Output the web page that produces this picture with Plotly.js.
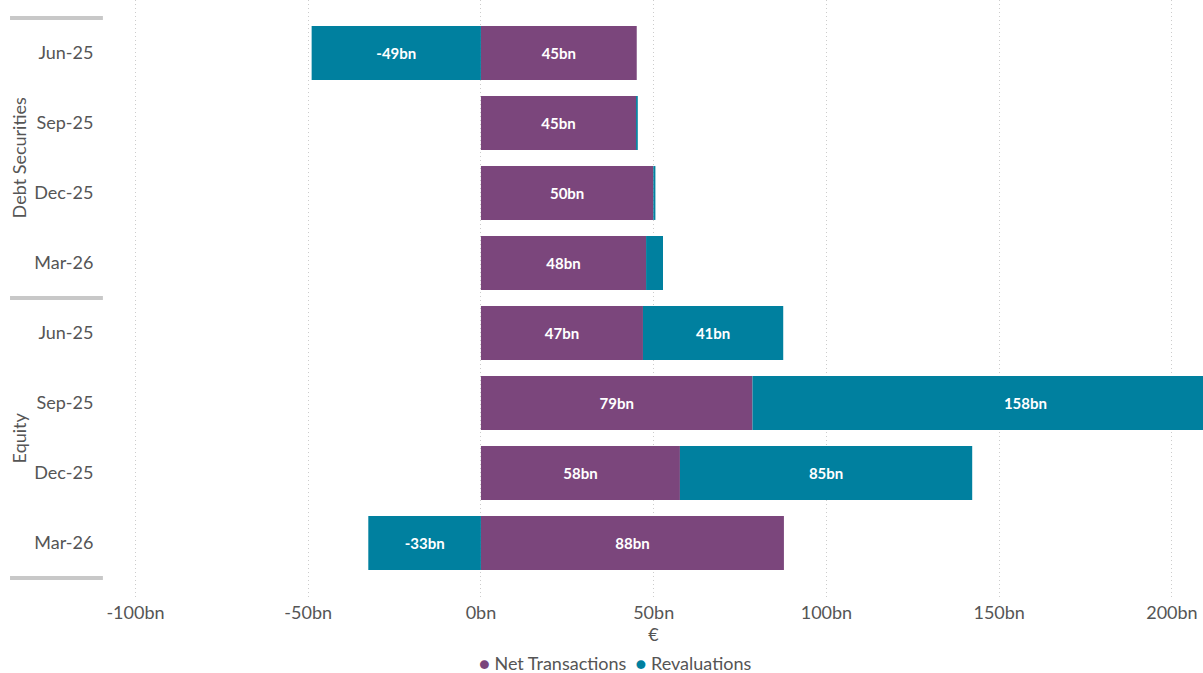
<!DOCTYPE html>
<html>
<head>
<meta charset="utf-8">
<script src="https://cdn.plot.ly/plotly-3.0.1.min.js"></script>
<style>html,body{margin:0;padding:0;background:#fff;}#chart{width:1203px;height:673px;}</style>
</head>
<body>
<div id="chart"></div>
<script>
const groups = ["Debt Securities","Debt Securities","Debt Securities","Debt Securities","Equity","Equity","Equity","Equity"];
const periods = ["Jun-25","Sep-25","Dec-25","Mar-26","Jun-25","Sep-25","Dec-25","Mar-26"];
const netTransactions = [45.1, 44.9, 49.9, 47.8, 46.9, 78.6, 57.6, 87.7];
const revaluations = [-49.0, 0.5, 0.6, 4.9, 40.6, 158.0, 84.6, -32.6];
const seriesNames = ["Net Transactions", "Revaluations"];
const seriesColors = ["#7B467C", "#00809F"];
const xTickVals = [-100, -50, 0, 50, 100, 150, 200];
const xTickText = ["-100bn", "-50bn", "0bn", "50bn", "100bn", "150bn", "200bn"];

const font = "Lato, 'Open Sans', sans-serif";
const textCol = "#555555";

// row positions derived from the category order
const rowIdx = periods.map((_, i) => i);
const rowText = periods.map((p, i) => groups[i] + " " + p);

function barTrace(vals, i) {
  return {
    type: "bar",
    orientation: "h",
    name: seriesNames[i],
    x: vals,
    y: rowIdx,
    text: rowText,
    marker: {color: seriesColors[i], line: {width: 0}},
    texttemplate: "%{x:.0f}bn",
    textposition: "inside",
    insidetextanchor: "middle",
    textangle: 0,
    insidetextfont: {family: font, size: 15, color: "#ffffff", weight: "bold"},
    hoverinfo: "x+text",
    showlegend: false
  };
}

const data = [barTrace(netTransactions, 0), barTrace(revaluations, 1)];

// group labels and dividers, computed from the groups array
const groupNames = [...new Set(groups)];
const annotations = [];
const shapes = [];
const bounds = [];
groupNames.forEach(g => {
  const idx = rowIdx.filter(i => groups[i] === g);
  const first = Math.min(...idx), last = Math.max(...idx);
  bounds.push(first - 0.5, last + 0.5);
  annotations.push({
    xref: "paper", yref: "y", x: -0.077, y: (first + last) / 2,
    xanchor: "center", yanchor: "middle", textangle: -90, showarrow: false,
    text: g, font: {family: font, size: 18, color: textCol}
  });
});
[...new Set(bounds)].forEach(b => {
  shapes.push({
    type: "line", xref: "paper", yref: "y",
    x0: -0.0855, x1: -0.0010, y0: b, y1: b,
    line: {color: "#c8c8c8", width: 4}
  });
});

const legendText = seriesNames.map((n, i) =>
  `<span style="color:${seriesColors[i]}">●</span> ${n}`).join("&nbsp;&nbsp;");
annotations.push({
  xref: "paper", yref: "paper",
  x: 0.465, y: -0.105, xanchor: "center", yanchor: "middle",
  showarrow: false, text: legendText,
  font: {family: font, size: 18, color: textCol}
});

const layout = {
  width: 1203, height: 673,
  margin: {l: 104, r: 0, t: 0, b: 73},
  paper_bgcolor: "#fff", plot_bgcolor: "#fff",
  barmode: "relative",
  bargap: 0.23,
  font: {family: font, color: textCol, size: 18},
  uniformtext: {mode: "hide", minsize: 14},
  xaxis: {
    range: [-109.1, 209],
    tickvals: xTickVals, ticktext: xTickText,
    showgrid: true, gridcolor: "#cccccc", griddash: "1px,3px", gridwidth: 1,
    zeroline: false, showline: false, ticks: "",
    tickfont: {family: font, size: 18, color: textCol},
    title: {text: "€", font: {family: font, size: 18, color: textCol}, standoff: 4}
  },
  yaxis: {
    range: [7.814, -0.757],
    tickvals: rowIdx, ticktext: periods,
    showgrid: false, zeroline: false, showline: false,
    ticks: "outside", ticklen: 6, tickcolor: "rgba(0,0,0,0)",
    tickfont: {family: font, size: 18, color: textCol}
  },
  shapes: shapes,
  annotations: annotations
};

Plotly.newPlot("chart", data, layout, {displayModeBar: false, staticPlot: true});
</script>
</body>
</html>
